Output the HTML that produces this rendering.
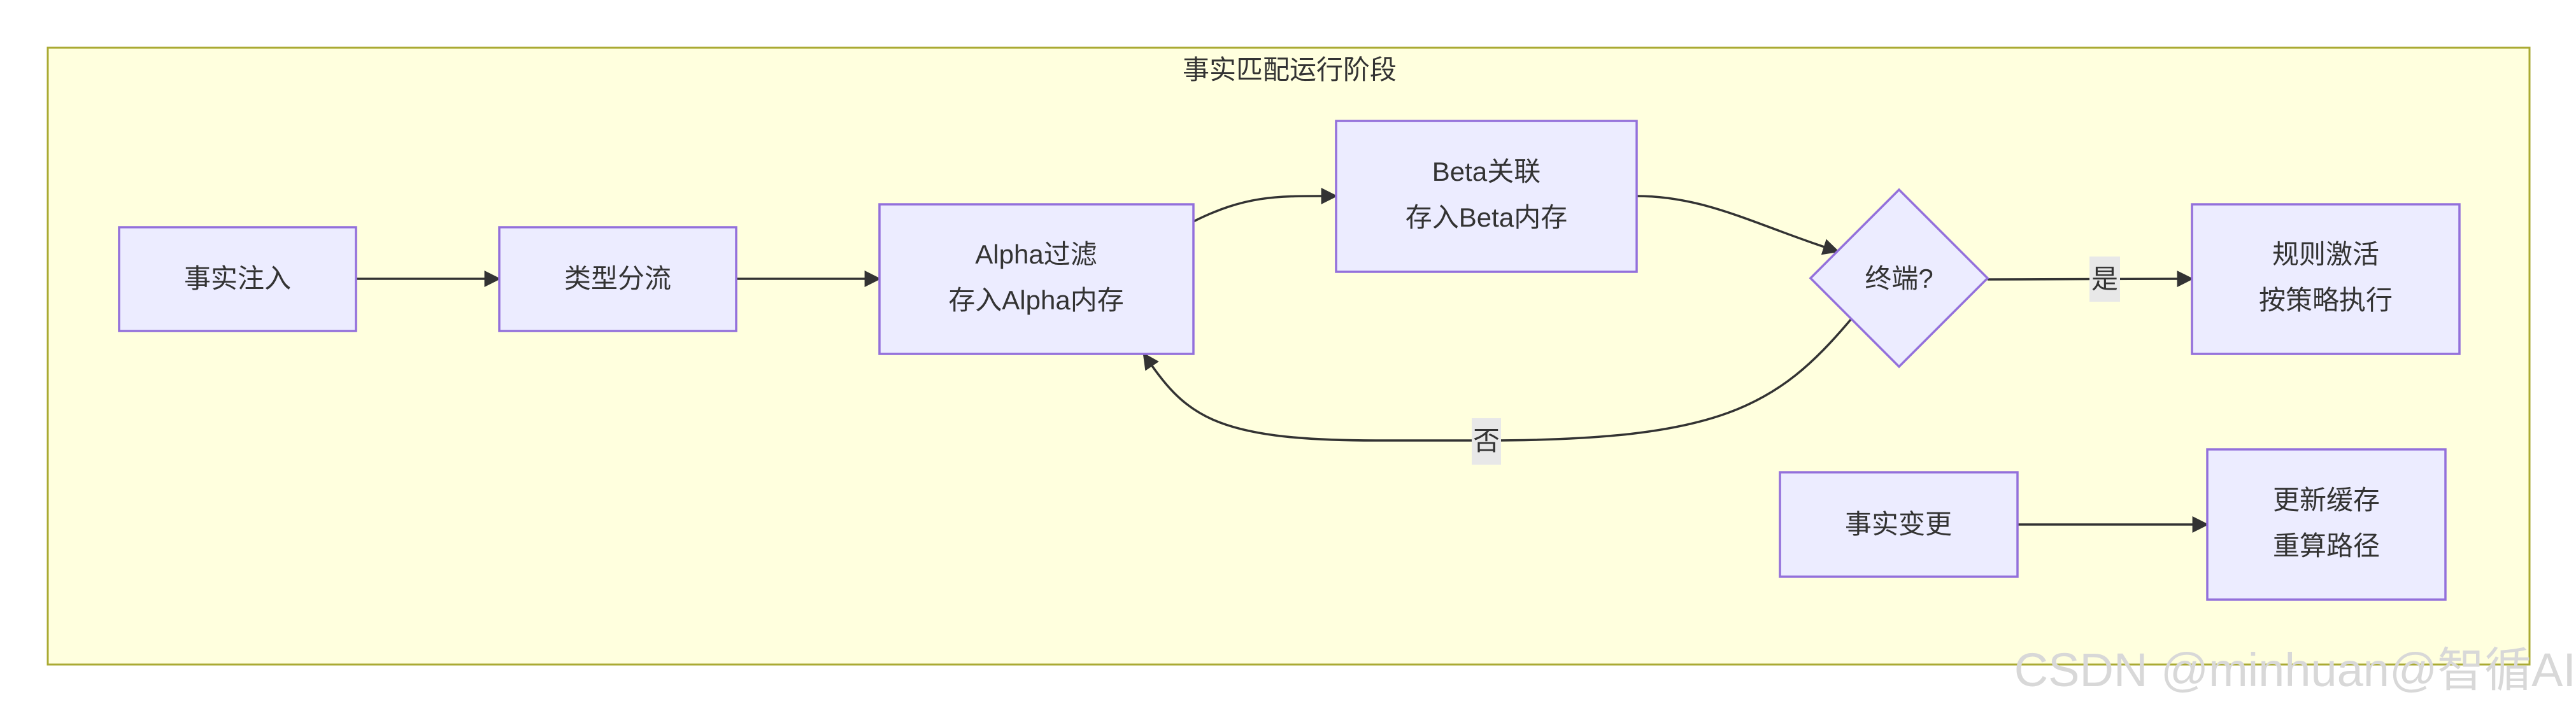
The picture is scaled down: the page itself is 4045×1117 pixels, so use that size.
<!DOCTYPE html>
<html><head><meta charset="utf-8"><style>
html,body{margin:0;padding:0;background:#fff;}
svg{display:block;}
text{font-family:"Liberation Sans","Noto Sans CJK SC",sans-serif;fill:#333;font-size:42px;}
</style></head><body>
<svg width="4045" height="1117" viewBox="0 0 4045 1117" xmlns="http://www.w3.org/2000/svg">
<defs><marker id="a" viewBox="0 0 10 10" refX="9" refY="5" markerWidth="9" markerHeight="9" markerUnits="userSpaceOnUse" orient="auto"><path d="M0,0L10,5L0,10z" fill="#333"/></marker>
<marker id="b" viewBox="0 0 10 10" refX="9" refY="5" markerWidth="26" markerHeight="26" markerUnits="userSpaceOnUse" orient="auto"><path d="M0,0L10,5L0,10z" fill="#333"/></marker></defs>
<rect x="75" y="75" width="3897" height="969" fill="#ffffde" stroke="#aaaa33" stroke-width="3"/>
<text x="2025" y="124" text-anchor="middle">事实匹配运行阶段</text>
<g fill="none" stroke="#333" stroke-width="3.5">
<path d="M559,438 L784,438" marker-end="url(#b)"/>
<path d="M1156,438 L1381,438" marker-end="url(#b)"/>
<path d="M1874,348 C1960,305 2010,308 2098,308" marker-end="url(#b)"/>
<path d="M2570,308 C2680,308 2760,355 2886,395" marker-end="url(#b)"/>
<path d="M3121,439 L3442,438" marker-end="url(#b)"/>
<path d="M2907,501 C2790,640 2700,692 2330,692 L2160,692 C1900,692 1860,650 1796,556" marker-end="url(#b)"/>
<path d="M3168,824 L3466,824" marker-end="url(#b)"/>
</g>
<g fill="#ececff" stroke="#9370db" stroke-width="3.5">
<rect x="187" y="357" width="372" height="163"/>
<rect x="784" y="357" width="372" height="163"/>
<rect x="1381" y="321" width="493" height="235"/>
<rect x="2098" y="190" width="472" height="237"/>
<polygon points="2982,298 3121,437 2982,576 2843,437"/>
<rect x="3442" y="321" width="420" height="235"/>
<rect x="2795" y="742" width="373" height="164"/>
<rect x="3466" y="706" width="374" height="236"/>
</g>
<rect x="3281" y="403" width="48" height="71" fill="#e8e8e8"/>
<rect x="2311" y="657" width="46" height="73" fill="#e8e8e8"/>
<g text-anchor="middle">
<text x="3305" y="453">是</text>
<text x="2334" y="707">否</text>
<text x="373" y="452">事实注入</text>
<text x="970" y="452">类型分流</text>
<text x="1627" y="414">Alpha过滤</text>
<text x="1627" y="486">存入Alpha内存</text>
<text x="2334" y="284">Beta关联</text>
<text x="2334" y="356">存入Beta内存</text>
<text x="2982" y="452">终端?</text>
<text x="3652" y="414">规则激活</text>
<text x="3652" y="486">按策略执行</text>
<text x="2981" y="838">事实变更</text>
<text x="3653" y="800">更新缓存</text>
<text x="3653" y="872">重算路径</text>
</g>
<text x="4045" y="1078" text-anchor="end" style="font-size:74px;fill:#d8d8d8">CSDN @minhuan@智循AI</text>
</svg>
</body></html>
